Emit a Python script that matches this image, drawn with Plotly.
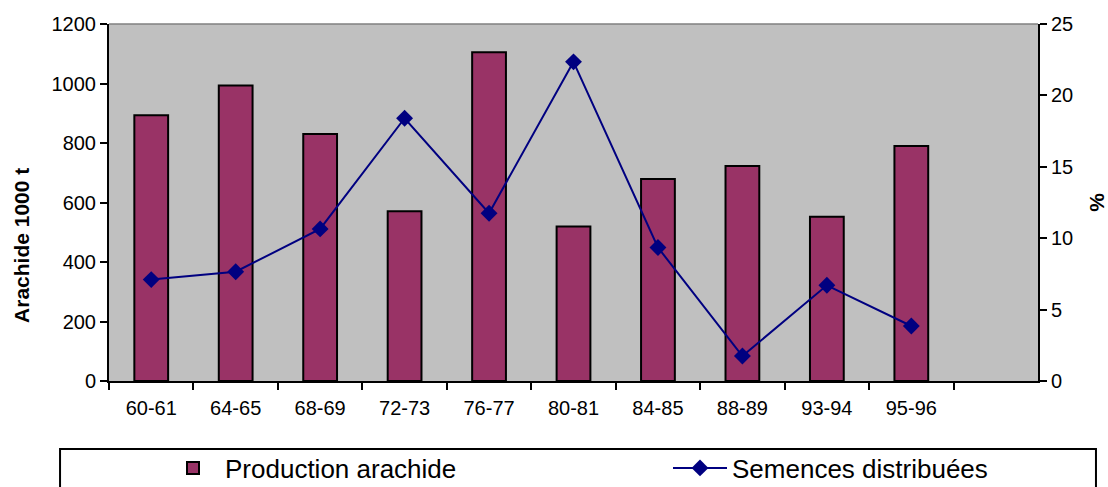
import plotly.graph_objects as go

# Campagnes agricoles
campagnes = ["60-61", "64-65", "68-69", "72-73", "76-77",
             "80-81", "84-85", "88-89", "93-94", "95-96"]
# Production d'arachide (milliers de tonnes)
production = [893, 993, 830, 571, 1105, 519, 679, 723, 552, 790]
# Semences distribuées (%)
semences = [7.1, 7.65, 10.65, 18.4, 11.75, 22.35, 9.35, 1.75, 6.7, 3.85]

n_slots = len(campagnes) + 1          # one trailing empty slot on the axis
bounds = [i - 0.5 for i in range(n_slots + 1)]

FONT = "Arial, Liberation Sans, sans-serif"
BAR_COLOR = "#993366"
LINE_COLOR = "#000080"

fig = go.Figure()
fig.add_trace(go.Bar(
    x=campagnes, y=production, name="Production arachide",
    marker=dict(color=BAR_COLOR, line=dict(color="black", width=2)),
    width=0.4, yaxis="y", xaxis="x", legend="legend",
))
fig.add_trace(go.Scatter(
    x=campagnes, y=semences, name="Semences distribuées",
    mode="lines+markers",
    line=dict(color=LINE_COLOR, width=2),
    marker=dict(symbol="diamond", size=13, color=LINE_COLOR),
    yaxis="y2", xaxis="x", legend="legend2",
))

tick_font = dict(family=FONT, size=20, color="black")
title_font = dict(family=FONT, size=21, color="black")
legend_font = dict(family=FONT, size=26, color="black")

legend_common = dict(
    orientation="h", xref="container", yref="container",
    xanchor="left", y=0.039, yanchor="middle", itemwidth=54,
    font=legend_font, bgcolor="rgba(0,0,0,0)", borderwidth=0,
)

fig.update_layout(
    width=1108, height=487,
    margin=dict(l=109, r=70, t=24, b=106, autoexpand=False),
    paper_bgcolor="white",
    plot_bgcolor="#C0C0C0",
    font=dict(family=FONT, color="black"),
    showlegend=True,
    xaxis=dict(
        type="category", categoryorder="array", categoryarray=campagnes,
        range=[-0.5, n_slots - 0.5], tickson="boundaries",
        ticks="outside", ticklen=7, tickwidth=2, tickcolor="black",
        showline=True, linecolor="black", linewidth=2,
        showgrid=False, zeroline=False, tickfont=tick_font,
        ticklabelstandoff=8, automargin=False,
    ),
    xaxis2=dict(
        overlaying="x", anchor="y", type="linear",
        range=[-0.5, n_slots - 0.5], tickmode="array", tickvals=bounds,
        ticks="inside", ticklen=7, tickwidth=2, tickcolor="black",
        showticklabels=False, showline=False, showgrid=False, zeroline=False,
        automargin=False,
    ),
    yaxis=dict(
        range=[0, 1200], dtick=200, tickformat="d",
        ticks="outside", ticklen=7, tickwidth=2, tickcolor="black",
        showline=True, linecolor="black", linewidth=2,
        showgrid=False, zeroline=False, tickfont=tick_font, automargin=False,
    ),
    yaxis2=dict(
        overlaying="y", side="right", anchor="x",
        range=[0, 25], dtick=5,
        ticks="outside", ticklen=7, tickwidth=2, tickcolor="black",
        showline=True, linecolor="black", linewidth=2,
        showgrid=False, zeroline=False, tickfont=tick_font, automargin=False,
        title=dict(text="<b>%</b>", font=title_font, standoff=18),
    ),
    yaxis3=dict(
        overlaying="y", side="left", anchor="x", range=[0, 1200], dtick=200,
        ticks="inside", ticklen=7, tickwidth=2, tickcolor="black",
        showticklabels=False, showline=False, showgrid=False, zeroline=False,
        automargin=False,
    ),
    yaxis4=dict(
        overlaying="y", side="right", anchor="x", range=[0, 25], dtick=5,
        ticks="inside", ticklen=7, tickwidth=2, tickcolor="black",
        showticklabels=False, showline=False, showgrid=False, zeroline=False,
        automargin=False,
    ),
    legend=dict(legend_common, x=161 / 1108),
    legend2=dict(legend_common, x=668 / 1108),
    annotations=[
        # left axis title
        dict(text="<b>Arachide 1000 t</b>", textangle=-90, showarrow=False,
             xref="paper", yref="paper", x=-0.0937, y=0.381,
             xanchor="center", yanchor="middle", font=title_font),
    ],
    shapes=[
        # gray top border of the plotting area
        dict(type="line", xref="paper", yref="paper", x0=0, x1=1, y0=1, y1=1,
             line=dict(color="#808080", width=1.5)),
        # legend frame
        dict(type="rect", xref="paper", yref="paper",
             x0=-0.0527, x1=1.0624, y0=-0.1905, y1=-0.32,
             line=dict(color="black", width=2), fillcolor="rgba(0,0,0,0)"),
    ],
)

fig.write_html("out.html")
